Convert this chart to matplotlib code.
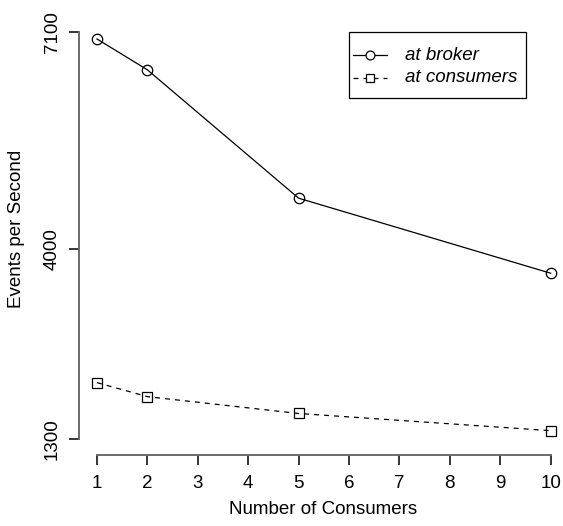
import matplotlib
matplotlib.use("Agg")
import matplotlib.pyplot as plt
from matplotlib.lines import Line2D
from matplotlib.patches import Rectangle

consumers = [1, 2, 5, 10]
at_broker = [7000, 6560, 4730, 3660]
at_consumers = [2100, 1900, 1660, 1415]
x_ticks = list(range(1, 11))
y_ticks = [1300, 4000, 7100]
series_labels = ['at broker', 'at consumers']

plt.rcParams['font.family'] = ['Liberation Sans', 'DejaVu Sans']

W, H = 563, 526
fig = plt.figure(figsize=(W / 100, H / 100), dpi=100)


def fx(px):
    return px / W


def fy(py):
    return 1 - py / H


# plot region in pixels (R-style: 4% padding beyond data range)
left, right, top, bottom = 78.85, 568.8, 15.7, 455.0
ax = fig.add_axes([fx(left), fy(bottom), (right - left) / W, (bottom - top) / H])
ax.set_xlim(0.64, 10.36)
ax.set_ylim(1068, 7332)

styles = [
    dict(color='black', lw=0.9, ls='-', marker='o', ms=7.5, mfc='none', mec='black', mew=0.9),
    dict(color='black', lw=0.9, ls=(0, (4, 4)), marker='s', ms=6.5, mfc='none', mec='black', mew=0.9),
]
ax.plot(consumers, at_broker, **styles[0])
ax.plot(consumers, at_consumers, **styles[1])

for s in ['top', 'right']:
    ax.spines[s].set_visible(False)
for s in ['left', 'bottom']:
    ax.spines[s].set_color('#6a6a6a')
    ax.spines[s].set_linewidth(1.4)
ax.spines['left'].set_bounds(1300, 7100)
ax.spines['bottom'].set_bounds(1, 10)

ax.set_xticks(x_ticks)
ax.set_yticks(y_ticks)
ax.set_yticklabels([str(v) for v in y_ticks], rotation=90, va='center')
ax.tick_params(axis='both', length=7, width=1.1, color='black', labelsize=13.5, pad=6)
ax.tick_params(axis='x', pad=7.5)

fig.text(fx(323), fy(510), 'Number of Consumers', ha='center', va='center', fontsize=13.5)
fig.text(fx(17), fy(229), 'Events per Second', ha='center', va='center', fontsize=13.5, rotation=90)

# legend box, drawn in figure pixels
fig.add_artist(Rectangle((fx(349), fy(98.3)), (525.7 - 349) / W, (98.3 - 32.3) / H,
                         transform=fig.transFigure, fill=False, ec='black', lw=0.9))
for label, st, yy in zip(series_labels, styles, [55.0, 78.0]):
    fig.add_artist(Line2D([fx(353), fx(387)], [fy(yy), fy(yy)], transform=fig.transFigure,
                          color=st['color'], lw=st['lw'], ls=st['ls']))
    fig.add_artist(Line2D([fx(370)], [fy(yy)], transform=fig.transFigure, ls='none',
                          marker=st['marker'], ms=st['ms'] * 0.85, mfc='white', mec='black',
                          mew=st['mew']))
    fig.text(fx(405), fy(yy), label, ha='left', va='center', fontsize=13.5, style='italic')

fig.savefig('out.png', dpi=100)
